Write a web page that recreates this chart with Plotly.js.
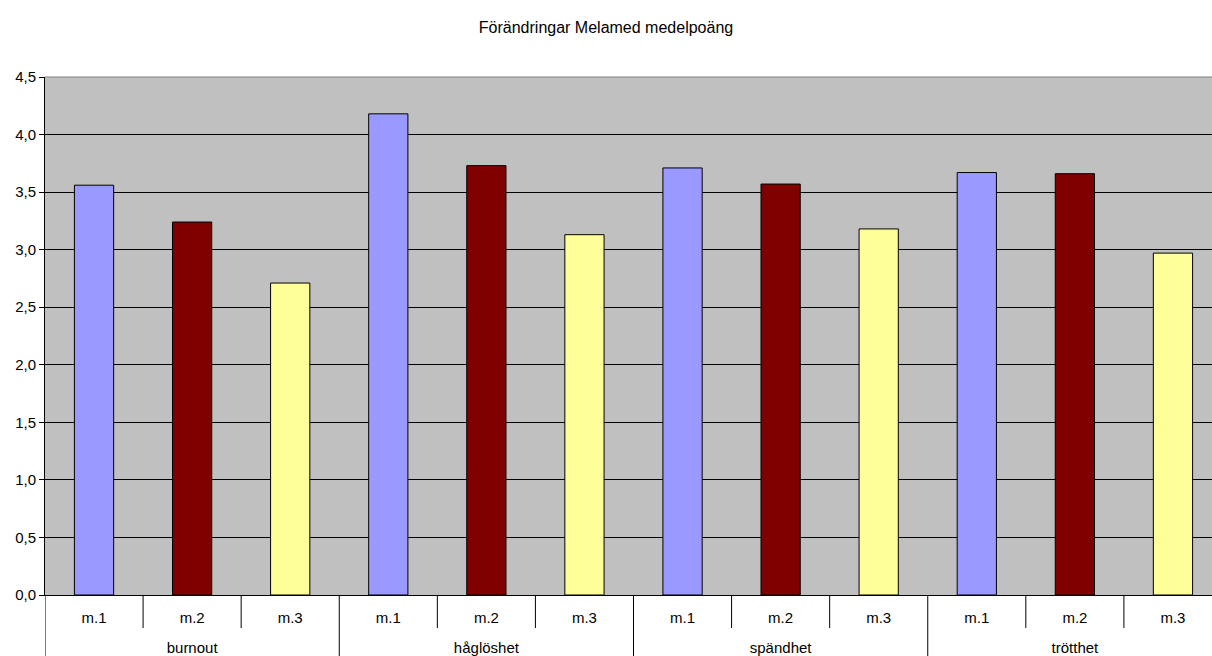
<!DOCTYPE html>
<html><head><meta charset="utf-8">
<script src="https://cdn.plot.ly/plotly-3.0.1.min.js"></script>
<style>html,body{margin:0;background:#fff;overflow:hidden}#c{width:1222px;height:656px}</style>
</head><body><div id="c"></div>
<script>
const groups = ["burnout", "håglöshet", "spändhet", "trötthet"];
const measures = ["m.1", "m.2", "m.3"];
const m1 = [3.56, 4.18, 3.71, 3.67];
const m2 = [3.24, 3.73, 3.57, 3.66];
const m3 = [2.71, 3.13, 3.18, 2.97];
const seriesValues = [m1, m2, m3];
const colors = ["#9999FF", "#800000", "#FFFF99"];

const catIds = [];
const catText = [];
groups.forEach(g => measures.forEach(m => { catIds.push(g + "|" + m); catText.push(m); }));

const traces = measures.map((m, k) => ({
  type: "bar",
  x: groups.map(g => g + "|" + m),
  y: seriesValues[k],
  name: m,
  marker: { color: colors[k], line: { color: "#000", width: 1 } },
  hovertemplate: "%{x}: %{y}<extra></extra>"
}));
// invisible trace to carry the group axis
traces.push({ type: "scatter", x: groups, y: groups.map(() => null), xaxis: "x2", yaxis: "y", showlegend: false, hoverinfo: "skip" });

const W = 1222, H = 656, T = 77, B = 0;
const plotBottomPx = 595;
const paperH = H - T - B;
const yDom0 = (H - plotBottomPx) / paperH;
const shortEnd = (H - 628) / paperH;

const nCats = catIds.length;
const shapes = [];
for (let i = 0; i < nCats; i++) {
  const isGroup = i % measures.length === 0;
  shapes.push({
    type: "line", xref: "x", yref: "paper",
    x0: i - 0.5, x1: i - 0.5, y0: yDom0, y1: isGroup ? 0 : shortEnd,
    line: { color: "#000", width: 1 }
  });
}
shapes.push({ type: "line", xref: "paper", yref: "paper", x0: 0, x1: 1, y0: 1, y1: 1, line: { color: "#808080", width: 1 } });

const layout = {
  width: W, height: H,
  margin: { l: 45, r: 0, t: T, b: B },
  paper_bgcolor: "#fff", plot_bgcolor: "#C0C0C0",
  font: { family: "Liberation Sans, Arial, sans-serif", size: 15, color: "#000" },
  title: { text: "Förändringar Melamed medelpoäng", xref: "container", x: 606 / W, xanchor: "center", y: 1 - 27 / H, yanchor: "middle", font: { size: 16 } },
  separators: ",.",
  showlegend: false,
  barmode: "overlay",
  bargap: 0.6,
  xaxis: {
    type: "category", categoryorder: "array", categoryarray: catIds,
    tickvals: catIds, ticktext: catText,
    range: [-0.5, nCats - 0.5],
    showline: true, linecolor: "#000", linewidth: 1,
    ticks: "", showgrid: false, zeroline: false,
    ticklabelstandoff: 9,
    tickfont: { size: 15 }
  },
  xaxis2: {
    type: "category", categoryorder: "array", categoryarray: groups,
    range: [-0.5, groups.length - 0.5],
    overlaying: "x", anchor: "free", position: 0, side: "top",
    showline: false, showgrid: false, zeroline: false, ticks: "",
    ticklabelstandoff: 0,
    tickfont: { size: 15 }
  },
  yaxis: {
    domain: [yDom0, 1],
    range: [0, 4.5], dtick: 0.5, tick0: 0, tickformat: ".1f",
    showline: true, linecolor: "#000", linewidth: 1,
    ticks: "outside", ticklen: 5, tickcolor: "#000",
    gridcolor: "#000", gridwidth: 1, zeroline: false,
    tickfont: { size: 15 }
  },
  shapes: shapes
};

Plotly.newPlot("c", traces, layout, { displayModeBar: false });
</script>
</body></html>
